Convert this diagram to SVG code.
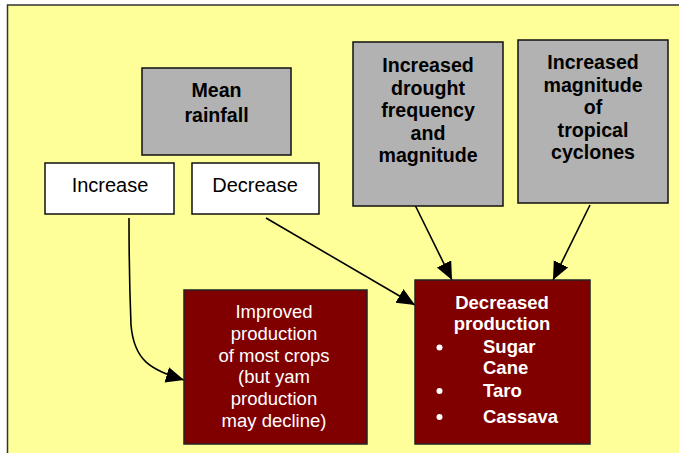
<svg xmlns="http://www.w3.org/2000/svg" width="679" height="453" viewBox="0 0 679 453">
<style>
text{font-family:"Liberation Sans",Arial,sans-serif;font-size:18.5px;text-anchor:middle}
.b{font-weight:bold}
.g{font-size:19.6px}
.n{font-size:20px}
.w{fill:#fff}
.grey{fill:#B2B2B2;stroke:#111;stroke-width:1.5}
.white{fill:#fff;stroke:#111;stroke-width:1.5}
.red{fill:#800000;stroke:#222;stroke-width:1.5}
.c{fill:none;stroke:#000;stroke-width:1.6}
</style>
<defs>
<marker id="ah" markerWidth="20" markerHeight="18" refX="18" refY="8" orient="auto" markerUnits="userSpaceOnUse">
<path d="M0,0 L18,8 L0,16 Z" fill="#000"/>
</marker>
</defs>
<rect width="679" height="453" fill="#fff"/>
<rect x="7.5" y="5" width="700" height="470" fill="#FFFF99" stroke="#333" stroke-width="1.5"/>
<g id="connectors">
<path class="c" d="M129,218 C129,270 130,300 131,325 C134,360 150,370 184,380" marker-end="url(#ah)"/>
<path class="c" d="M266,218 L415,305" marker-end="url(#ah)"/>
<path class="c" d="M415,205 L452,280" marker-end="url(#ah)"/>
<path class="c" d="M590,205 L553,280" marker-end="url(#ah)"/>
</g>
<g id="mean-rainfall">
<rect class="grey" x="142" y="68" width="149" height="87"/>
<text class="b g" x="216.5" y="97">Mean</text>
<text class="b g" x="216.5" y="122">rainfall</text>
</g>
<g id="increase">
<rect class="white" x="45" y="163" width="129" height="51"/>
<text class="n" x="110" y="192">Increase</text>
</g>
<g id="decrease">
<rect class="white" x="192" y="163" width="127" height="51"/>
<text class="n" x="255" y="192">Decrease</text>
</g>
<g id="drought">
<rect class="grey" x="353" y="42" width="150" height="164"/>
<text class="b g" x="428" y="72">Increased</text>
<text class="b g" x="428" y="94.5">drought</text>
<text class="b g" x="428" y="117">frequency</text>
<text class="b g" x="428" y="139.5">and</text>
<text class="b g" x="428" y="162">magnitude</text>
</g>
<g id="cyclones">
<rect class="grey" x="518" y="40" width="150" height="163"/>
<text class="b g" x="593" y="69">Increased</text>
<text class="b g" x="593" y="91.5">magnitude</text>
<text class="b g" x="593" y="114">of</text>
<text class="b g" x="593" y="136.5">tropical</text>
<text class="b g" x="593" y="159">cyclones</text>
</g>
<g id="improved">
<rect class="red" x="184" y="290" width="183" height="154"/>
<text class="w" x="274" y="318">Improved</text>
<text class="w" x="274" y="339.8">production</text>
<text class="w" x="274" y="361.6">of most crops</text>
<text class="w" x="274" y="383.4">(but yam</text>
<text class="w" x="274" y="405.2">production</text>
<text class="w" x="274" y="427">may decline)</text>
</g>
<g id="decreased">
<rect class="red" x="415" y="280" width="175" height="164"/>
<text class="b w" x="502" y="309">Decreased</text>
<text class="b w" x="502" y="330">production</text>
<circle cx="439.5" cy="347.5" r="3" fill="#fff"/>
<circle cx="439.5" cy="391" r="3" fill="#fff"/>
<circle cx="439.5" cy="417" r="3" fill="#fff"/>
<text class="b w" x="483" y="353" style="text-anchor:start">Sugar</text>
<text class="b w" x="483" y="374" style="text-anchor:start">Cane</text>
<text class="b w" x="483" y="397" style="text-anchor:start">Taro</text>
<text class="b w" x="483" y="423" style="text-anchor:start">Cassava</text>
</g>
</svg>
